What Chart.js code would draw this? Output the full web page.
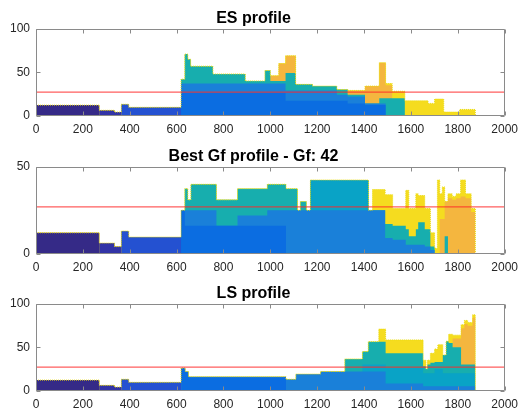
<!DOCTYPE html>
<html lang="en">
<head>
<meta charset="UTF-8">
<title>Resource profiles</title>
<script src="https://cdn.jsdelivr.net/npm/chart.js"></script>
<style>
    body { margin: 0; background: #fff; }
    .panel { position: absolute; left: 0; width: 525px; height: 138px; }
</style>
</head>
<body>
<div class="panel" style="top:0px"><canvas id="esChart"></canvas></div>
<div class="panel" style="top:138px"><canvas id="gfChart"></canvas></div>
<div class="panel" style="top:275px"><canvas id="lsChart"></canvas></div>

<script>
// first tasks are the same in every profile
const earlyX      = [0, 270, 335, 364, 396, 619];
const earlyNavy   = [12, 0, 0, 0, 0, 0];
const earlyIndigo = [0, 6, 4, 0, 0, 0];
const earlyRoyal  = [0, 0, 0, 13, 9.5, 0];

const limitX = [0, 2000];
const limitY = [27, 27];

// ES profile (step starts, cumulative heights)
const esX      = [0, 270, 335, 364, 396, 619, 635, 648, 660, 755, 893, 977, 1000, 1036, 1065, 1108, 1180, 1284, 1330, 1404, 1465, 1492, 1520, 1574, 1673, 1701, 1740, 1808, 1875];
const esTop    = [12, 6, 4, 13, 9.5, 42, 71, 65, 57, 48, 40, 52, 46, 60, 69, 36, 34, 30, 29, 34, 61, 37, 28, 17, 14, 19, 4, 7, 0];
const esOrange = [0, 0, 0, 0, 0, 0, 0, 0, 0, 0, 0, 0, 46, 60, 69, 0, 0, 0, 29, 34, 61, 35, 0, 0, 0, 0, 0, 0, 0];
const esTeal   = [0, 0, 0, 0, 0, 42, 71, 65, 57, 48, 40, 52, 40, 40, 49, 36, 34, 30, 24, 14, 20, 20, 20, 0, 0, 0, 0, 0, 0];
const esMid    = [0, 0, 0, 0, 0, 37, 37, 37, 37, 37, 37, 37, 37, 37, 29, 29, 29, 24, 22, 14, 14, 0, 0, 0, 0, 0, 0, 0, 0];
const esBlue   = [0, 0, 0, 0, 0, 26, 26, 26, 26, 26, 26, 26, 26, 26, 17, 17, 17, 17, 14, 12, 12, 0, 0, 0, 0, 0, 0, 0, 0];

// Best Gf profile
const gfX      = [0, 270, 335, 364, 396, 619, 635, 648, 661, 770, 860, 987, 1067, 1116, 1128, 1154, 1171, 1419, 1436, 1490, 1522, 1578, 1591, 1621, 1631, 1659, 1683, 1701, 1713, 1723, 1734, 1744, 1758, 1776, 1793, 1812, 1833, 1857, 1875];
const gfTop    = [12, 6, 4, 13, 9.5, 25, 37.5, 31, 40, 31, 37.5, 40, 37.5, 25, 30, 25, 42.5, 25, 37, 34, 26, 36.5, 26, 34.5, 33.5, 26, 12, 3, 42.5, 34.5, 38.5, 30, 34.5, 33, 34.5, 42.5, 34.5, 26, 0];
const gfOrange = [0, 0, 0, 0, 0, 0, 0, 0, 0, 0, 0, 0, 0, 0, 0, 0, 0, 0, 0, 0, 0, 0, 0, 0, 0, 0, 0, 0, 0, 20, 20, 30, 32, 31, 32, 33, 32, 24, 0];
const gfTeal   = [0, 0, 0, 0, 0, 25, 37.5, 31, 40, 31, 37.5, 40, 37.5, 25, 30, 25, 42.5, 25, 25, 17, 16, 14, 10, 14, 18, 14, 4, 0, 0, 0, 0, 10, 0, 0, 0, 0, 0, 0, 0];
const gfCyan   = [0, 0, 0, 0, 0, 0, 0, 0, 0, 0, 0, 0, 0, 0, 0, 0, 42.5, 0, 0, 0, 0, 0, 0, 0, 0, 0, 0, 0, 0, 0, 0, 0, 0, 0, 0, 0, 0, 0, 0];
const gfMid    = [0, 0, 0, 0, 0, 25, 25, 25, 25, 16, 22, 25, 25, 25, 25, 25, 25, 25, 25, 9, 8, 5, 5, 5, 5, 4, 2, 0, 0, 0, 0, 0, 0, 0, 0, 0, 0, 0, 0];
const gfBlue   = [0, 0, 0, 0, 0, 25, 16, 16, 16, 16, 16, 16, 0, 0, 0, 0, 0, 0, 0, 0, 0, 0, 0, 0, 0, 0, 0, 0, 0, 0, 0, 0, 0, 0, 0, 0, 0, 0, 0];

// LS profile
const lsX      = [0, 270, 335, 364, 396, 619, 637, 651, 1067, 1109, 1214, 1318, 1393, 1418, 1463, 1492, 1652, 1664, 1670, 1683, 1701, 1715, 1736, 1750, 1761, 1778, 1814, 1828, 1842, 1863, 1875];
const lsTop    = [12, 6, 4, 13, 9.5, 26, 22, 16, 13, 19, 22, 36.5, 45, 56.5, 71, 58.5, 35, 25, 35, 43, 48, 53, 41, 57, 65, 64, 76, 81, 78.5, 87.5, 0];
const lsOrange = [0, 0, 0, 0, 0, 0, 0, 0, 0, 0, 0, 0, 0, 0, 0, 0, 0, 0, 0, 0, 0, 0, 0, 0, 0, 60, 72, 77, 75, 84, 0];
const lsTeal   = [0, 0, 0, 0, 0, 0, 0, 0, 0, 0, 0, 36.5, 45, 56.5, 56.5, 43, 28, 25, 30, 32, 33, 33, 41, 57, 55, 50, 30, 30, 30, 30, 0];
const lsCyan   = [0, 0, 0, 0, 0, 0, 0, 0, 0, 0, 0, 0, 30, 30, 30, 26, 20, 20, 20, 20, 25, 25, 20, 20, 20, 20, 20, 20, 20, 20, 0];
const lsMid    = [0, 0, 0, 0, 0, 0, 0, 0, 13, 19, 22, 22, 22, 22, 22, 8, 5, 5, 5, 5, 5, 5, 5, 5, 5, 5, 5, 5, 5, 5, 0];
const lsBlue   = [0, 0, 0, 0, 0, 26, 22, 16, 0, 0, 0, 0, 0, 0, 0, 0, 0, 0, 0, 0, 0, 0, 0, 0, 0, 0, 0, 0, 0, 0, 0];

const colors = {
    yellow: '#f5dc1f',
    orange: '#f4b63f',
    teal: '#17aeae',
    cyan: '#09a3c6',
    mid: '#1a80d9',
    blue: '#0b6de1',
    royal: '#2451d1',
    indigo: '#3234a6',
    navy: '#352a87'
};

function pts(xs, ys) {
    return xs.map((v, i) => ({ x: v, y: ys[i] }));
}

function area(xs, ys, color) {
    return {
        data: pts(xs, ys),
        stepped: true,
        fill: 'origin',
        backgroundColor: color,
        borderWidth: 0,
        pointRadius: 0
    };
}

// inward ticks and full box, like the original axes
const axesBox = {
    id: 'axesBox',
    afterDraw(chart) {
        const { ctx, chartArea: a, scales } = chart;
        const l = Math.round(a.left) + 0.5, r = Math.round(a.right) - 0.5;
        const t = Math.round(a.top) + 0.5, b = Math.round(a.bottom) - 0.5;
        ctx.save();
        ctx.strokeStyle = '#8a8a8a';
        ctx.lineWidth = 1;
        ctx.beginPath();
        scales.x.ticks.forEach(tk => {
            const px = Math.round(scales.x.getPixelForValue(tk.value)) + 0.5;
            ctx.moveTo(px, b); ctx.lineTo(px, b - 4);
            ctx.moveTo(px, t); ctx.lineTo(px, t + 4);
        });
        scales.y.ticks.forEach(tk => {
            const py = Math.round(scales.y.getPixelForValue(tk.value)) + 0.5;
            ctx.moveTo(l, py); ctx.lineTo(l + 4, py);
            ctx.moveTo(r, py); ctx.lineTo(r - 4, py);
        });
        ctx.rect(l, t, r - l, b - t);
        ctx.stroke();
        ctx.restore();
    }
};

const tickFont = { family: 'Liberation Sans', size: 12 };

function makeChart(id, title, yMax, xs, top, layers) {
    const datasets = [
        { data: pts(limitX, limitY), borderColor: 'rgba(255, 40, 40, 0.75)', borderWidth: 1.2, pointRadius: 0, fill: false },
        { data: pts(xs, top), stepped: true, borderColor: '#e9dc10', borderWidth: 1, borderDash: [1, 1], pointRadius: 0, fill: false },
        area(earlyX, earlyNavy, colors.navy),
        area(earlyX, earlyIndigo, colors.indigo),
        area(earlyX, earlyRoyal, colors.royal)
    ];
    layers.forEach(ly => datasets.push(area(xs, ly[0], ly[1])));
    datasets.push(area(xs, top, colors.yellow));

    return new Chart(document.getElementById(id), {
        type: 'line',
        data: { datasets },
        options: {
            responsive: true,
            maintainAspectRatio: false,
            animation: false,
            layout: { padding: { left: 0, right: 18, top: 0, bottom: 0 } },
            plugins: {
                legend: { display: false },
                tooltip: { enabled: false },
                title: {
                    display: true,
                    text: title,
                    color: '#000',
                    font: { family: 'Liberation Sans', size: 16, weight: 'bold', lineHeight: 1.05 },
                    padding: { top: 10, bottom: 2.2 }
                }
            },
            scales: {
                x: {
                    type: 'linear',
                    min: 0,
                    max: 2000,
                    grid: { display: false, drawTicks: false },
                    border: { display: false },
                    ticks: { stepSize: 200, maxRotation: 0, autoSkip: false, padding: 7, color: '#262626', font: tickFont, callback: v => String(v) },
                    afterFit: s => { s.height = 22.5; }
                },
                y: {
                    min: 0,
                    max: yMax,
                    grid: { display: false, drawTicks: false },
                    border: { display: false },
                    ticks: { stepSize: 50, padding: 6, color: '#262626', font: tickFont, callback: v => String(v) },
                    afterFit: s => { s.width = 36; }
                }
            }
        },
        plugins: [axesBox]
    });
}

makeChart('esChart', 'ES profile', 100, esX, esTop, [
    [esBlue, colors.blue], [esMid, colors.mid], [esTeal, colors.teal], [esOrange, colors.orange]
]);
makeChart('gfChart', 'Best Gf profile - Gf: 42', 50, gfX, gfTop, [
    [gfBlue, colors.blue], [gfMid, colors.mid], [gfCyan, colors.cyan], [gfTeal, colors.teal], [gfOrange, colors.orange]
]);
makeChart('lsChart', 'LS profile', 100, lsX, lsTop, [
    [lsBlue, colors.blue], [lsMid, colors.mid], [lsCyan, colors.cyan], [lsTeal, colors.teal], [lsOrange, colors.orange]
]);
</script>
</body>
</html>
